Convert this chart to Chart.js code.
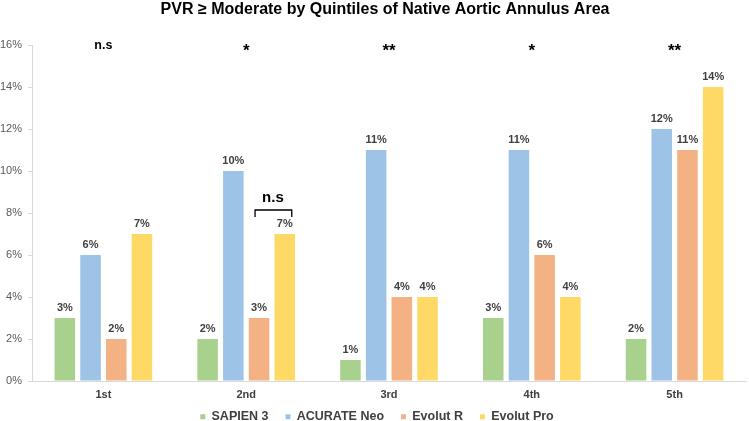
<!DOCTYPE html>
<html>
<head>
<meta charset="utf-8">
<script src="https://cdn.jsdelivr.net/npm/chart.js@4.4.0/dist/chart.umd.min.js"></script>
<style>
  html, body { margin: 0; padding: 0; background: #fff; }
  #wrap { width: 749px; height: 421px; position: relative; }
</style>
</head>
<body>
<div id="wrap"><canvas id="pvrChart"></canvas></div>
<script>
const quintiles = ['1st', '2nd', '3rd', '4th', '5th'];
const sapien3 = [3, 2, 1, 3, 2];
const acurateNeo = [6, 10, 11, 11, 12];
const evolutR = [2, 3, 4, 6, 11];
const evolutPro = [7, 7, 4, 4, 14];
const significance = ['n.s', '*', '**', '*', '**'];
const yTicks = [0, 2, 4, 6, 8, 10, 12, 14, 16];
const chartTitle = 'PVR \u2265 Moderate by Quintiles of Native Aortic Annulus Area';

const FONT = 'Arial, "Liberation Sans", sans-serif';

// title drawn by hand so it can sit a little right of canvas centre like the original
const titlePlugin = {
    id: 'plainTitle',
    afterDraw(chart) {
        const ctx = chart.ctx;
        ctx.save();
        ctx.fillStyle = '#000';
        ctx.font = 'bold 16px ' + FONT;
        ctx.textAlign = 'center';
        ctx.textBaseline = 'middle';
        ctx.fillText(chartTitle, 385, 10);
        ctx.restore();
    }
};

// legend sits tight under the x labels, nudge it after layout
const legendNudge = {
    id: 'legendNudge',
    afterLayout(chart) {
        const lg = chart.legend;
        const dy = 393.5 - lg.top;
        lg.top += dy; lg.bottom += dy;
        lg.left += 4; lg.right += 4;
    }
};

// p-value marks over each group, and the bracket in the 2nd quintile
const sigPlugin = {
    id: 'sigMarks',
    afterDatasetsDraw(chart) {
        const ctx = chart.ctx;
        const x = chart.scales.x;
        const y = chart.scales.y;
        ctx.save();
        ctx.fillStyle = '#000';
        ctx.textAlign = 'center';
        ctx.textBaseline = 'middle';
        significance.forEach((s, i) => {
            ctx.font = s === 'n.s' ? 'bold 12.5px ' + FONT : 'bold 17px ' + FONT;
            const dy = s === 'n.s' ? 1 : 6;
            ctx.fillText(s, x.getPixelForValue(i), y.getPixelForValue(16) + dy);
        });
        // bracket between Evolut R and Evolut Pro, 2nd quintile
        const b1 = chart.getDatasetMeta(2).data[1];
        const b2 = chart.getDatasetMeta(3).data[1];
        const top = y.getPixelForValue(7) - 24;
        ctx.strokeStyle = '#000';
        ctx.lineWidth = 1.3;
        ctx.beginPath();
        ctx.moveTo(b1.x - 4, top + 7);
        ctx.lineTo(b1.x - 4, top);
        ctx.lineTo(b2.x + 7, top);
        ctx.lineTo(b2.x + 7, top + 7);
        ctx.stroke();
        ctx.font = 'bold 15px ' + FONT;
        ctx.fillText('n.s', (b1.x + b2.x) / 2 + 1, top - 12);
        ctx.restore();
    }
};

const labelPlugin = {
    id: 'barLabels',
    afterDatasetsDraw(chart) {
        const ctx = chart.ctx;
        ctx.save();
        ctx.fillStyle = '#404040';
        ctx.font = 'bold 11px ' + FONT;
        ctx.textAlign = 'center';
        ctx.textBaseline = 'middle';
        chart.data.datasets.forEach((ds, di) => {
            chart.getDatasetMeta(di).data.forEach((bar, i) => {
                ctx.fillText(ds.data[i] + '%', bar.x, bar.y - 10);
            });
        });
        ctx.restore();
    }
};

new Chart(document.getElementById('pvrChart'), {
    type: 'bar',
    data: {
        labels: quintiles,
        datasets: [
            { label: 'SAPIEN 3', data: sapien3, backgroundColor: '#A9D18E' },
            { label: 'ACURATE Neo', data: acurateNeo, backgroundColor: '#9DC3E6' },
            { label: 'Evolut R', data: evolutR, backgroundColor: '#F4B183' },
            { label: 'Evolut Pro', data: evolutPro, backgroundColor: '#FFD966' }
        ]
    },
    options: {
        responsive: true,
        maintainAspectRatio: false,
        animation: false,
        layout: { padding: { left: 0, right: 3, top: 45, bottom: -20.5 } },
        datasets: { bar: { categoryPercentage: 0.72, barPercentage: 0.8 } },
        plugins: {
            title: { display: false },
            legend: {
                position: 'bottom',
                labels: {
                    color: '#404040',
                    font: { family: FONT, size: 12.5, weight: 'bold' },
                    boxWidth: 5,
                    boxHeight: 5,
                    padding: 17
                }
            },
            tooltip: { enabled: false }
        },
        scales: {
            x: {
                grid: { display: false, drawTicks: false },
                border: { color: '#D9D9D9' },
                ticks: {
                    color: '#404040',
                    font: { family: FONT, size: 11, weight: 'bold' },
                    padding: 7
                },
                afterFit(axis) { axis.height = 21; }
            },
            y: {
                min: 0,
                max: 16,
                afterBuildTicks(axis) { axis.ticks = yTicks.map(v => ({ value: v })); },
                afterFit(axis) { axis.width = 32; },
                grid: { display: true, drawOnChartArea: false, drawTicks: true, tickLength: 4, color: '#D9D9D9' },
                border: { color: '#D9D9D9' },
                ticks: {
                    color: '#595959',
                    font: { family: FONT, size: 11 },
                    padding: 6,
                    callback: v => v + '%'
                }
            }
        }
    },
    plugins: [legendNudge, sigPlugin, labelPlugin, titlePlugin]
});
</script>
</body>
</html>
